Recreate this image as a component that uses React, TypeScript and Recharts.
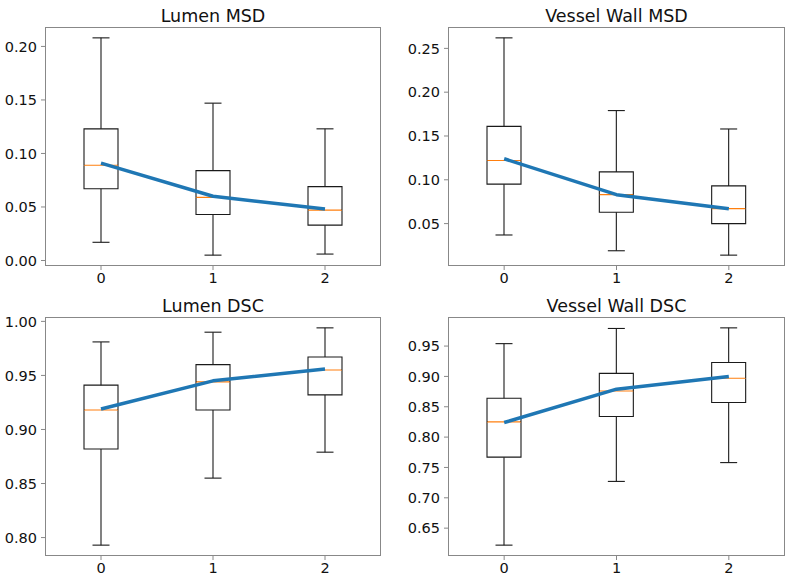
import React from 'react';
import { Bar, ComposedChart, Line, XAxis, YAxis } from 'recharts';

const categories = ['0', '1', '2'];

const lumenMsdMin = [0.017, 0.005, 0.006];
const lumenMsdQ1 = [0.067, 0.043, 0.033];
const lumenMsdMedian = [0.089, 0.059, 0.047];
const lumenMsdQ3 = [0.123, 0.084, 0.069];
const lumenMsdMax = [0.208, 0.147, 0.123];
const lumenMsdMean = [0.091, 0.06, 0.048];
const lumenMsdTicks = [0, 0.05, 0.1, 0.15, 0.2];

const wallMsdMin = [0.037, 0.019, 0.014];
const wallMsdQ1 = [0.095, 0.063, 0.05];
const wallMsdMedian = [0.122, 0.083, 0.067];
const wallMsdQ3 = [0.161, 0.109, 0.093];
const wallMsdMax = [0.262, 0.179, 0.158];
const wallMsdMean = [0.124, 0.083, 0.067];
const wallMsdTicks = [0.05, 0.1, 0.15, 0.2, 0.25];

const lumenDscMin = [0.793, 0.855, 0.879];
const lumenDscQ1 = [0.882, 0.918, 0.932];
const lumenDscMedian = [0.918, 0.944, 0.955];
const lumenDscQ3 = [0.941, 0.96, 0.967];
const lumenDscMax = [0.981, 0.99, 0.994];
const lumenDscMean = [0.919, 0.945, 0.956];
const lumenDscTicks = [0.8, 0.85, 0.9, 0.95, 1.0];

const wallDscMin = [0.622, 0.727, 0.758];
const wallDscQ1 = [0.767, 0.834, 0.857];
const wallDscMedian = [0.825, 0.876, 0.897];
const wallDscQ3 = [0.864, 0.905, 0.923];
const wallDscMax = [0.954, 0.979, 0.98];
const wallDscMean = [0.824, 0.879, 0.9];
const wallDscTicks = [0.65, 0.7, 0.75, 0.8, 0.85, 0.9, 0.95];

const FONT = '"DejaVu Sans", sans-serif';
const BOX_COLOR = '#1a1a1a';
const MEDIAN_COLOR = '#ff7f0e';
const MEAN_COLOR = '#1f77b4';
const SPINE_COLOR = '#888';

interface Stats {
  min: number[];
  q1: number[];
  median: number[];
  q3: number[];
  max: number[];
  mean: number[];
}

interface PanelProps {
  title: string;
  stats: Stats;
  ticks: number[];
  left: number;
  top: number;
  width: number;
  height: number;
  plot: { top: number; right: number; bottom: number; left: number };
}

const buildRows = (s: Stats) =>
  categories.map((name, i) => ({
    name,
    base: s.min[i],
    wLow: s.q1[i] - s.min[i],
    boxLow: s.median[i] - s.q1[i],
    boxHigh: s.q3[i] - s.median[i],
    wHigh: s.max[i] - s.q3[i],
    mean: s.mean[i],
  }));

// matplotlib-like autoscale: whisker range plus 5% each side
const paddedDomain = (s: Stats): [number, number] => {
  const lo = Math.min(...s.min);
  const hi = Math.max(...s.max);
  const pad = (hi - lo) * 0.05;
  return [lo - pad, hi + pad];
};

const emptyShape = () => <g />;

const lowWhisker = (props: any) => {
  const { x, y, width, height } = props;
  const cx = x + width / 2;
  const bottom = y + height;
  return (
    <g stroke={BOX_COLOR} strokeWidth={1.1}>
      <line x1={cx} x2={cx} y1={y} y2={bottom} />
      <line x1={cx - width / 4} x2={cx + width / 4} y1={bottom} y2={bottom} />
    </g>
  );
};

const highWhisker = (props: any) => {
  const { x, y, width, height } = props;
  const cx = x + width / 2;
  return (
    <g stroke={BOX_COLOR} strokeWidth={1.1}>
      <line x1={cx} x2={cx} y1={y} y2={y + height} />
      <line x1={cx - width / 4} x2={cx + width / 4} y1={y} y2={y} />
    </g>
  );
};

const lowerBox = (props: any) => {
  const { x, y, width, height } = props;
  const bottom = y + height;
  return (
    <g>
      <polyline
        points={`${x},${y} ${x},${bottom} ${x + width},${bottom} ${x + width},${y}`}
        fill="none"
        stroke={BOX_COLOR}
        strokeWidth={1.1}
      />
      <line x1={x} x2={x + width} y1={y} y2={y} stroke={MEDIAN_COLOR} strokeWidth={1.2} />
    </g>
  );
};

const upperBox = (props: any) => {
  const { x, y, width, height } = props;
  const bottom = y + height;
  return (
    <polyline
      points={`${x},${bottom} ${x},${y} ${x + width},${y} ${x + width},${bottom}`}
      fill="none"
      stroke={BOX_COLOR}
      strokeWidth={1.1}
    />
  );
};

const BoxPanel: React.FC<PanelProps> = ({ title, stats, ticks, left, top, width, height, plot }) => {
  const rows = buildRows(stats);
  const plotW = width - plot.left - plot.right;
  const plotH = height - plot.top - plot.bottom;
  const tickStyle = { fontFamily: FONT, fontSize: 14.5, fill: '#111' };

  return (
    <div style={{ position: 'absolute', left, top, width, height }}>
      <div
        style={{
          position: 'absolute',
          left: plot.left,
          width: plotW,
          top: 8,
          textAlign: 'center',
          fontFamily: FONT,
          fontSize: 17.5,
          lineHeight: '17px',
          color: '#111',
        }}
      >
        {title}
      </div>
      <ComposedChart
        width={width}
        height={height}
        data={rows}
        margin={{ top: plot.top, right: plot.right, bottom: 0, left: 0 }}
        barSize={34}
      >
        <XAxis
          dataKey="name"
          type="category"
          height={plot.bottom}
          axisLine={false}
          tickSize={4}
          tickMargin={3}
          tickLine={{ stroke: SPINE_COLOR }}
          tick={tickStyle}
          interval={0}
        />
        <YAxis
          type="number"
          width={plot.left}
          domain={paddedDomain(stats)}
          allowDataOverflow
          ticks={ticks}
          interval={0}
          axisLine={false}
          tickSize={4}
          tickMargin={4}
          tickLine={{ stroke: SPINE_COLOR }}
          tick={tickStyle}
          tickFormatter={(v: number) => v.toFixed(2)}
        />
        <Bar dataKey="base" stackId="box" shape={emptyShape} isAnimationActive={false} />
        <Bar dataKey="wLow" stackId="box" shape={lowWhisker} isAnimationActive={false} />
        <Bar dataKey="boxLow" stackId="box" shape={lowerBox} isAnimationActive={false} />
        <Bar dataKey="boxHigh" stackId="box" shape={upperBox} isAnimationActive={false} />
        <Bar dataKey="wHigh" stackId="box" shape={highWhisker} isAnimationActive={false} />
        <Line
          type="linear"
          dataKey="mean"
          stroke={MEAN_COLOR}
          strokeWidth={3.5}
          strokeLinejoin="round"
          dot={false}
          activeDot={false}
          isAnimationActive={false}
        />
      </ComposedChart>
      <div
        style={{
          position: 'absolute',
          left: plot.left,
          top: plot.top,
          width: plotW,
          height: plotH,
          border: `1px solid ${SPINE_COLOR}`,
          boxSizing: 'border-box',
          pointerEvents: 'none',
        }}
      />
    </div>
  );
};

const App: React.FC = () => (
  <div style={{ position: 'absolute', left: 0, top: 0, width: 791, height: 585, background: '#fff' }}>
    <BoxPanel
      title="Lumen MSD"
      stats={{ min: lumenMsdMin, q1: lumenMsdQ1, median: lumenMsdMedian, q3: lumenMsdQ3, max: lumenMsdMax, mean: lumenMsdMean }}
      ticks={lumenMsdTicks}
      left={0}
      top={0}
      width={395}
      height={290}
      plot={{ top: 27, right: 14, bottom: 24, left: 45 }}
    />
    <BoxPanel
      title="Vessel Wall MSD"
      stats={{ min: wallMsdMin, q1: wallMsdQ1, median: wallMsdMedian, q3: wallMsdQ3, max: wallMsdMax, mean: wallMsdMean }}
      ticks={wallMsdTicks}
      left={395}
      top={0}
      width={396}
      height={290}
      plot={{ top: 27, right: 6, bottom: 24, left: 53 }}
    />
    <BoxPanel
      title="Lumen DSC"
      stats={{ min: lumenDscMin, q1: lumenDscQ1, median: lumenDscMedian, q3: lumenDscQ3, max: lumenDscMax, mean: lumenDscMean }}
      ticks={lumenDscTicks}
      left={0}
      top={290}
      width={395}
      height={295}
      plot={{ top: 27, right: 14, bottom: 29, left: 45 }}
    />
    <BoxPanel
      title="Vessel Wall DSC"
      stats={{ min: wallDscMin, q1: wallDscQ1, median: wallDscMedian, q3: wallDscQ3, max: wallDscMax, mean: wallDscMean }}
      ticks={wallDscTicks}
      left={395}
      top={290}
      width={396}
      height={295}
      plot={{ top: 27, right: 6, bottom: 29, left: 53 }}
    />
  </div>
);

export default App;
